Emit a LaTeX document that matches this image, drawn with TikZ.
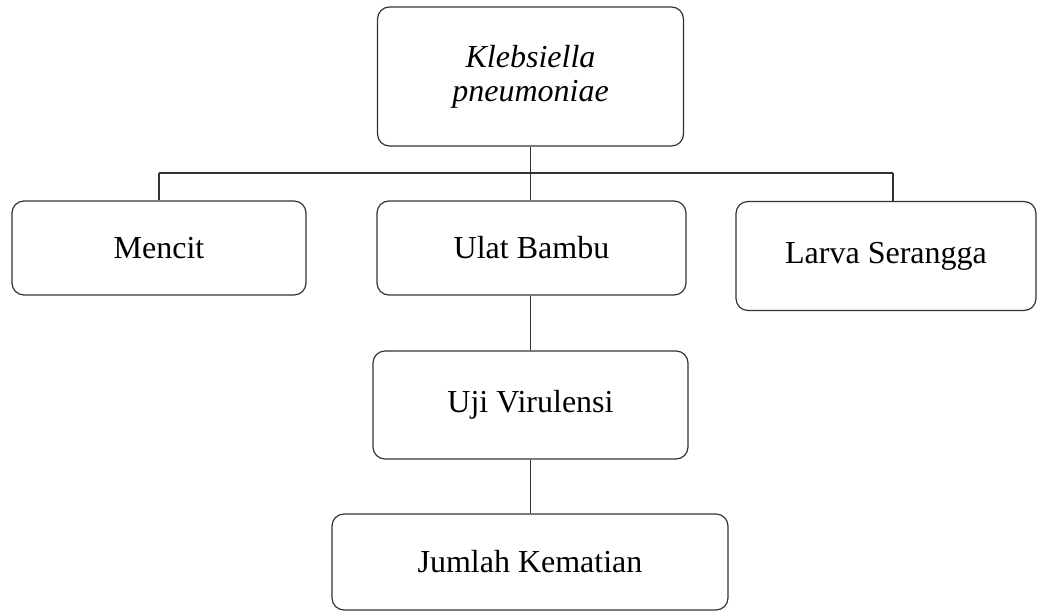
\documentclass[tikz,border=0pt]{standalone}
\usepackage{fontspec}
\setmainfont{Liberation Serif}
\begin{document}
\begin{tikzpicture}[x=1pt,y=-1pt,
  box/.style={draw=black!80, line width=1.2pt, rounded corners=12pt, align=center, inner sep=0pt, font=\fontsize{32}{34}\selectfont},
  conn/.style={draw=black!80, line width=1.2pt}]
\useasboundingbox (0,0) rectangle (1042,616);
\node[box, minimum width=306, minimum height=139] (kp) at (530.5,76.5) {\itshape Klebsiella\\\itshape pneumoniae};
\node[box, minimum width=294, minimum height=94] (mencit) at (159,248) {Mencit};
\node[box, minimum width=309, minimum height=94] (ulat) at (531.5,248) {Ulat Bambu};
\node[box, minimum width=300, minimum height=109] (larva) at (886,256) {Larva Serangga};
\node[box, minimum width=315, minimum height=108] (uji) at (530.5,405) {Uji Virulensi};
\node[box, minimum width=396, minimum height=96] (jumlah) at (530,562) {Jumlah Kematian};
\coordinate (hub) at (530.5,173);
\coordinate (hl) at (159,173);
\coordinate (hr) at (893,173);
\draw[conn] (kp.south) -- (hub);
\draw[conn] (hl) -- (hr);
\draw[conn] (hl) -- (mencit.north);
\draw[conn] (hub) -- (ulat.north -| hub);
\draw[conn] (hr) -- (larva.north -| hr);
\draw[conn] (ulat.south -| hub) -- (uji.north -| hub);
\draw[conn] (uji.south -| hub) -- (jumlah.north -| hub);
\end{tikzpicture}
\end{document}
